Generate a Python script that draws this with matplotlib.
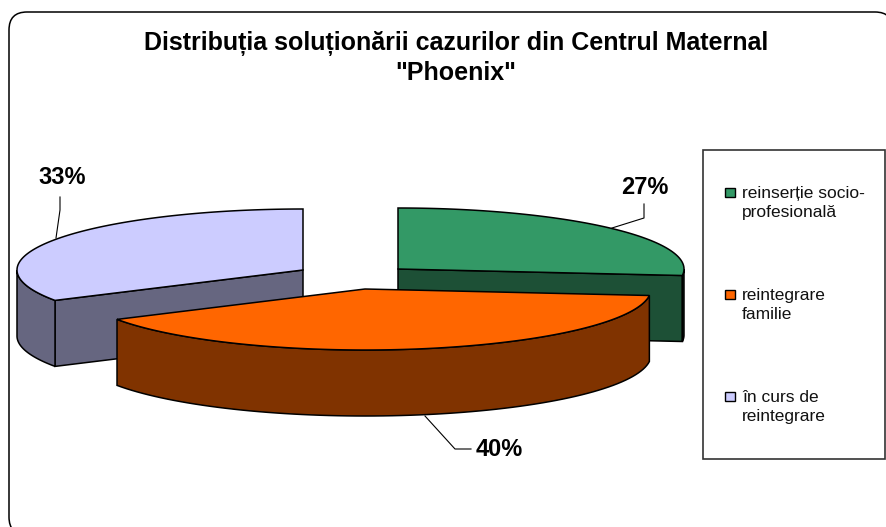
import matplotlib
matplotlib.use('Agg')
import matplotlib.pyplot as plt
from matplotlib.patches import FancyBboxPatch, Polygon, Rectangle
import numpy as np

title = 'Distribuția soluționării cazurilor din Centrul Maternal\n"Phoenix"'
categories = ['reinserție socio-\nprofesională', 'reintegrare\nfamilie', 'în curs de\nreintegrare']
values = [26.7, 40, 33.3]
labels = ['27%', '40%', '33%']
top_colors = ['#339966', '#FF6600', '#CCCCFF']
side_colors = ['#1D5036', '#803300', '#666680']

plt.rcParams['font.family'] = ['Liberation Sans', 'DejaVu Sans']

fig = plt.figure(figsize=(8.87, 5.27), dpi=100)
ax = fig.add_axes([0, 0, 1, 1])
ax.set_xlim(0, 887)
ax.set_ylim(527, 0)
ax.axis('off')

# outer rounded frame, runs off the right and bottom of the picture
ax.add_patch(FancyBboxPatch((9, 12), 884, 523, boxstyle='round,pad=0,rounding_size=18',
                            fc='white', ec='black', lw=1.1))

a, b = 286, 61
depth = 66
centers = [(398, 269), (365, 289), (303, 270)]

fracs = np.array(values) / sum(values)
edges = np.concatenate([[0], np.cumsum(fracs)]) * 2 * np.pi


def rim(cx, cy, t):
    return np.column_stack([cx + a * np.sin(t), cy - b * np.cos(t)])


def wall(cx, cy, t1, t2, color):
    # outer side, only the part turned to the viewer
    t1, t2 = max(t1, np.pi / 2), min(t2, 3 * np.pi / 2)
    if t2 <= t1:
        return
    t = np.linspace(t1, t2, 80)
    up = rim(cx, cy, t)
    down = up + [0, depth]
    ax.add_patch(Polygon(np.vstack([up, down[::-1]]), fc=color, ec='black', lw=1.1))


def cut(cx, cy, t, color):
    p = rim(cx, cy, np.array([t]))[0]
    pts = [(cx, cy), p, p + [0, depth], (cx, cy + depth)]
    ax.add_patch(Polygon(pts, fc=color, ec='black', lw=1.1))


def top(cx, cy, t1, t2, color):
    t = np.linspace(t1, t2, 120)
    pts = np.vstack([[(cx, cy)], rim(cx, cy, t)])
    ax.add_patch(Polygon(pts, fc=color, ec='black', lw=1.1))


# back slices first, the orange one sits in front
for i, side in [(2, 'start'), (0, 'end'), (1, None)]:
    cx, cy = centers[i]
    t1, t2 = edges[i], edges[i + 1]
    if side == 'start':
        cut(cx, cy, t1, side_colors[i])
    if side == 'end':
        cut(cx, cy, t2, side_colors[i])
    wall(cx, cy, t1, t2, side_colors[i])
    top(cx, cy, t1, t2, top_colors[i])

# leader lines
ax.plot([612, 644, 644], [228, 218, 204], color='black', lw=0.8)
ax.plot([425, 455, 471], [416, 449, 449], color='black', lw=0.8)
ax.plot([56, 60, 60], [238, 210, 197], color='black', lw=0.8)

ax.text(645, 187, labels[0], ha='center', va='center', fontsize=17, fontweight='bold')
ax.text(499, 449, labels[1], ha='center', va='center', fontsize=17, fontweight='bold')
ax.text(62, 178, labels[2], ha='center', va='center', fontsize=17, fontweight='bold')

ax.text(456, 58, title, ha='center', va='center', fontsize=18, fontweight='bold', linespacing=1.25)

# legend box
ax.add_patch(Rectangle((703, 150), 182, 309, fc='white', ec='#333333', lw=1.2))
for y, name, color in zip([192, 294, 396], categories, top_colors):
    ax.add_patch(Rectangle((725, y - 4), 10.5, 9, fc=color, ec='black', lw=1))
    ax.text(742, y + 11, name, ha='left', va='center', fontsize=12.5, linespacing=1.3, color='#111111')

fig.savefig('out.png', dpi=100)
